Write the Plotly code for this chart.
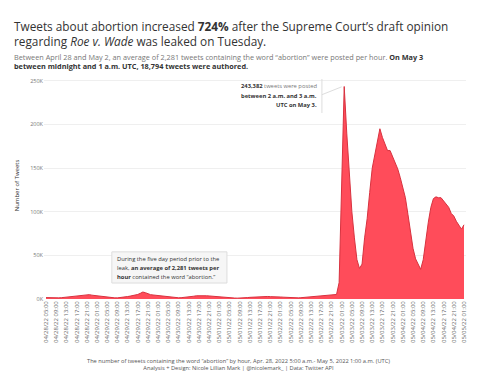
import plotly.graph_objects as go
import pandas as pd

# ---- data (thousands of tweets per hour), hourly from 2022-04-28 05:00 UTC ----
start = "2022-04-28 05:00"
apr28 = [1.6, 1.4, 1.3, 1.2, 1.2, 1.3, 1.5, 1.8, 2.2, 2.6, 3.0, 3.4, 3.0, 3.3, 3.6, 4.0, 4.6, 5.0, 4.4]
apr29 = [4.0, 3.6, 3.2, 2.8, 2.4, 2.0, 1.7, 1.5, 1.3, 1.3, 1.5, 1.8, 2.3, 2.8, 3.3, 3.8, 4.4, 5.2, 6.5, 8.0, 7.2, 5.8, 5.0, 4.6]
apr30 = [4.2, 3.8, 3.4, 3.0, 2.6, 2.2, 1.9, 1.6, 1.4, 1.4, 1.5, 1.7, 2.0, 2.3, 2.7, 3.2, 3.7, 3.9, 4.0, 3.8, 3.7, 3.5, 3.2, 3.0]
may01 = [2.8, 2.6, 2.3, 2.0, 1.7, 1.4, 1.2, 1.1, 1.0, 1.0, 1.1, 1.3, 1.6, 1.9, 2.1, 2.4, 2.7, 2.6, 2.8, 3.0, 2.9, 2.7, 2.8, 2.6]
may02 = [2.5, 2.3, 2.1, 1.9, 1.6, 1.4, 1.3, 1.2, 1.3, 1.5, 1.8, 2.1, 2.5, 2.9, 3.3, 3.6, 3.9, 4.2, 4.4, 4.6, 4.8, 5.0, 5.5, 5.2]
may03 = [18.794, 135, 243.382, 190, 145, 100, 70, 45, 35, 40, 70, 92, 122, 150, 165, 182, 195, 185, 178, 170,
         170, 163, 157, 149, 139, 127, 116, 97, 78, 58, 46, 40]
may04 = [34, 45, 70, 88, 105, 115, 117, 116, 116, 112, 109, 105, 98, 95, 89, 84, 80, 85]

vals_k = apr28 + apr29 + apr30 + may01 + may02 + may03 + may04
tweets = [v * 1000 for v in vals_k]
times = pd.date_range(start, periods=len(tweets), freq="h")

tick_times = list(times[::4])
tick_labels = [t.strftime("%m/%d/%y %H:%M") for t in tick_times]

y_ticks = [0, 50000, 100000, 150000, 200000, 250000]
y_labels = ["0K", "50K", "100K", "150K", "200K", "250K"]

box_lines = ["During the five day period prior to the",
             "leak, <b>an average of 2,281 tweets per</b>",
             "<b>hour</b> contained the word \u201cabortion.\u201d"]
peak_lines = ["<b>243,382</b> <span style='color:#777'>tweets were posted</span>",
              "<b>between 2 a.m. and 3 a.m.</b>",
              "<b>UTC on May 3.</b>"]

FONT = "Open Sans"
fig = go.Figure()
fig.add_trace(go.Scatter(
    x=times, y=tweets, mode="lines", fill="tozeroy",
    line=dict(color="#d8323f", width=1), fillcolor="#ff4c5a",
    hoverinfo="skip", showlegend=False))

x_left = times[0] - pd.Timedelta(minutes=47)
x_right = times[-1] + pd.Timedelta(minutes=47)

fig.update_layout(
    width=480, height=384,
    margin=dict(l=44, r=12, t=72, b=85),
    paper_bgcolor="white", plot_bgcolor="white",
    font=dict(family=FONT, color="#555"),
    xaxis=dict(range=[x_left, x_right], tickvals=tick_times, ticktext=tick_labels,
               tickangle=-90, tickfont=dict(size=6, color="#666"), showgrid=False,
               zeroline=False, showline=False, ticks="", ticklen=0),
    yaxis=dict(range=[0, 260000], tickvals=y_ticks, ticktext=y_labels,
               tickfont=dict(size=5.5, color="#777"), gridcolor="#efefef", gridwidth=1,
               zeroline=False, showline=False, ticks="",
               title=dict(text="Number of Tweets", font=dict(size=6, color="#333"), standoff=10)),
)

title = ("Tweets about abortion increased <b>724%</b> after the Supreme Court\u2019s draft opinion<br>"
         "regarding <i>Roe v. Wade</i> was leaked on Tuesday.")
sub = ("<span style='color:#777'>Between April 28 and May 2, an average of 2,281 tweets containing the word \u201cabortion\u201d "
       "were posted per hour.</span> <b>On May 3<br>between midnight and 1 a.m. UTC, 18,794 tweets were authored.</b>")
fig.add_annotation(xref="paper", yref="paper", x=-0.075, y=1.245, xanchor="left", yanchor="top",
                   text=title, showarrow=False, align="left",
                   font=dict(size=11.8, color="#333", family=FONT))
fig.add_annotation(xref="paper", yref="paper", x=-0.075, y=1.097, xanchor="left", yanchor="top",
                   text=sub, showarrow=False, align="left",
                   font=dict(size=7.3, color="#333", family=FONT))

# footer
fig.add_annotation(xref="paper", yref="paper", x=0.462, y=-0.245, xanchor="center", yanchor="top",
                   text=("The number of tweets containing the word \u201cabortion\u201d by hour, Apr. 28, 2022 5:00 a.m.- "
                         "May 5, 2022 1:00 a.m. (UTC)<br>Analysis + Design: Nicole Lillian Mark | @nicolemark_ | Data: Twitter API"),
                   showarrow=False, align="center", font=dict(size=5.7, color="#555", family=FONT))

# box annotation
fig.add_shape(type="rect", xref="x", yref="y", x0=times[25] + pd.Timedelta(minutes=50), x1=times[71],
              y0=18300, y1=54000, fillcolor="#f6f6f6", line=dict(color="#dddddd", width=1), layer="above")
for i, (txt, yv) in enumerate(zip(box_lines, [46000, 35600, 25200])):
    fig.add_annotation(xref="x", yref="y", x=times[27], y=yv, xanchor="left", yanchor="middle",
                       text=txt, showarrow=False, align="left",
                       font=dict(size=5.8, color="#333", family=FONT))

# peak annotation
for txt, yv in zip(peak_lines, [243500, 233000, 222500]):
    fig.add_annotation(xref="x", yref="y", x=times[107], y=yv, xanchor="right", yanchor="middle",
                       text=txt, showarrow=False, align="right",
                       font=dict(size=5.8, color="#333", family=FONT))
fig.add_shape(type="line", xref="x", yref="y", x0=times[108] + pd.Timedelta(minutes=15), x1=times[108] + pd.Timedelta(minutes=15),
              y0=213000, y1=252000, line=dict(color="#dddddd", width=1))
fig.add_shape(type="line", xref="x", yref="y", x0=times[108] + pd.Timedelta(minutes=15), x1=times[116],
              y0=234000, y1=243000, line=dict(color="#dddddd", width=1))

fig.write_html("out.html", config={"displayModeBar": False},
               post_script="document.body.style.margin='0';")
